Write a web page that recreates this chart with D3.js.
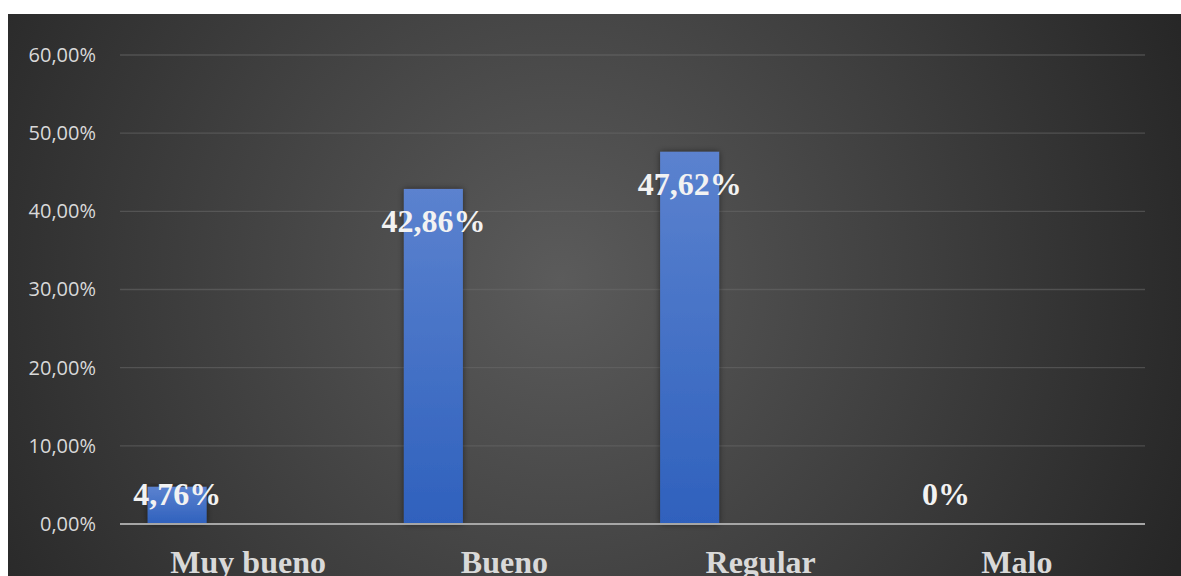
<!DOCTYPE html>
<html><head><meta charset="utf-8">
<script src="https://cdn.jsdelivr.net/npm/d3@7"></script>
<style>html,body{margin:0;padding:0;background:#fff;}svg{display:block;}</style>
</head><body>
<script>
const categories = ["Muy bueno", "Bueno", "Regular", "Malo"];
const values = [0.0476, 0.4286, 0.4762, 0];
const valueLabels = ["4,76%", "42,86%", "47,62%", "0%"];
const yTicks = [0, 0.1, 0.2, 0.3, 0.4, 0.5, 0.6];

const W = 1181, H = 576;
const svg = d3.select("body").append("svg").attr("width", W).attr("height", H);
const defs = svg.append("defs");
const rg = defs.append("radialGradient").attr("id","bg").attr("gradientUnits","userSpaceOnUse")
  .attr("cx",560).attr("cy",280).attr("r",680);
rg.append("stop").attr("offset","0").attr("stop-color","#5b5b5b");
rg.append("stop").attr("offset","1").attr("stop-color","#262626");
const bg = defs.append("linearGradient").attr("id","bar").attr("x1",0).attr("y1",0).attr("x2",0).attr("y2",1);
bg.append("stop").attr("offset","0").attr("stop-color","#5b82cf");
bg.append("stop").attr("offset","1").attr("stop-color","#2f61bd");
const f = defs.append("filter").attr("id","sh").attr("x","-50%").attr("y","-10%").attr("width","200%").attr("height","120%");
f.append("feDropShadow").attr("dx",0).attr("dy",0).attr("stdDeviation",3).attr("flood-color","#000").attr("flood-opacity",0.5);

svg.append("rect").attr("x",8).attr("y",14).attr("width",W-8).attr("height",H-14).attr("fill","url(#bg)");

const x0 = 120, x1 = 1145;
const x = d3.scaleBand().domain(categories).range([x0, x1]);
const y = d3.scaleLinear().domain([0, 0.6]).range([524, 55]);
const barW = 59, barShift = -71;

// gridlines
svg.append("g").selectAll("line").data(yTicks.filter(d => d > 0)).join("line")
  .attr("x1", x0).attr("x2", x1).attr("y1", d => y(d)).attr("y2", d => y(d))
  .attr("stroke", "#6a6a6a").attr("stroke-opacity", 0.55).attr("stroke-width", 1.3);

// y axis labels
const fmt = d => d3.format(".2f")(d * 100).replace(".", ",") + "%";
const yAxis = d3.axisLeft(y).tickValues(yTicks).tickFormat(fmt).tickSize(0).tickPadding(24);
const ya = svg.append("g").attr("transform", `translate(${x0},0)`).call(yAxis);
ya.select(".domain").remove();
ya.selectAll("text").attr("fill", "#d9d9d9").style("font-family", "'Open Sans', sans-serif").style("font-size", "20px");

// bars
svg.append("g").selectAll("rect").data(values).join("rect")
  .attr("x", (d, i) => x(categories[i]) + x.bandwidth() / 2 + barShift - barW / 2)
  .attr("y", d => y(d)).attr("width", barW).attr("height", d => y(0) - y(d))
  .attr("fill", "url(#bar)").attr("filter", "url(#sh)");

// x axis line
svg.append("line").attr("x1", x0).attr("x2", x1).attr("y1", y(0)).attr("y2", y(0))
  .attr("stroke", "#a6a6a6").attr("stroke-width", 2);

// category labels
const xAxis = d3.axisBottom(x).tickSize(0).tickPadding(0);
const xa = svg.append("g").attr("transform", `translate(0,${y(0)})`).call(xAxis);
xa.select(".domain").remove();
xa.selectAll("text").attr("dy", null).attr("y", 49).attr("fill", "#d9d9d9")
  .style("font-family", "'Liberation Serif', 'Times New Roman', serif").style("font-size", "32px").style("font-weight", "bold");

// data labels
svg.append("g").selectAll("text").data(values).join("text")
  .attr("x", (d, i) => x(categories[i]) + x.bandwidth() / 2 + barShift)
  .attr("y", d => Math.min(y(d) + 43, y(0) - 19))
  .attr("text-anchor", "middle").attr("fill", "#f2f2f2")
  .style("font-family", "'Liberation Serif', 'Times New Roman', serif").style("font-size", "32px").style("font-weight", "bold")
  .text((d, i) => valueLabels[i]);
</script>
</body></html>
